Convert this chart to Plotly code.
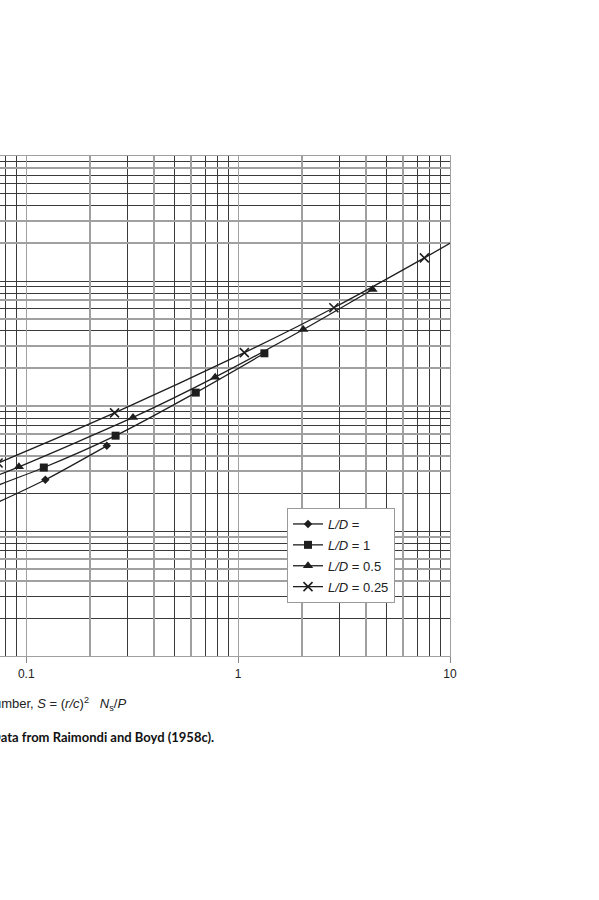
import plotly.graph_objects as go

# Sommerfeld number S and friction variable (r/c)f  (Raimondi & Boyd)
S_inf = [0.240, 0.123, 0.0626, 0.0350, 0.0160]
f_inf = [4.80, 2.57, 1.52, 1.20, 0.961]
S_1 = [1.33, 0.631, 0.264, 0.121, 0.0446, 0.0188]
f_1 = [26.4, 12.8, 5.79, 3.22, 1.70, 1.05]
S_05 = [4.31, 2.03, 0.779, 0.319, 0.0923, 0.0313]
f_05 = [85.6, 40.9, 17.0, 8.10, 3.26, 1.60]
S_025 = [16.2, 7.57, 2.83, 1.07, 0.261, 0.0736, 0.0101]
f_025 = [322, 153, 61.1, 26.7, 8.80, 3.50, 0.922]

series_names = ["<i>L/D</i> = ", "<i>L/D</i> = 1", "<i>L/D</i> = 0.5", "<i>L/D</i> = 0.25"]
x_tick_vals = [0.1, 1, 10]
x_tick_text = ["0.1", "1", "10"]
# grid lines that appear lighter in the printed chart
x_light_grid = [0.2, 0.4, 0.6, 2, 4, 6]
y_light_grid = [0.1, 0.4, 0.5, 0.6, 0.9, 3, 4, 6, 10, 20, 30, 50, 70, 200, 300, 800, 1000]

W, H = 599, 900
L, R, T, B = 0, 149, 156, 244
XR = [-1.124, 1.0]
YR = [-1.0, 3.0]

LINE = "#1e1e1e"
DARK = "#3a3a3a"
LIGHT = "#a0a0a0"

fig = go.Figure()
specs = [
    (S_inf, f_inf, "diamond", 6.5, None),
    (S_1, f_1, "square", 8, None),
    (S_05, f_05, "triangle-up", 9, None),
    (S_025, f_025, "x-thin", 9, 1.6),
]
for i, ((xs, ys, sym, sz, lw), name) in enumerate(zip(specs, series_names)):
    marker = dict(symbol=sym, size=sz, color=LINE)
    if lw:
        marker["line"] = dict(width=lw, color=LINE)
    fig.add_trace(go.Scatter(
        x=xs, y=ys, mode="lines+markers", name=name,
        line=dict(color=LINE, width=1.3, shape="spline", smoothing=0.6),
        marker=marker, legendgroup=f"g{i}",
    ))

# dummy trace for the overlay axes that carry the lighter grid lines
fig.add_trace(go.Scatter(x=[None], y=[None], xaxis="x2", yaxis="y2",
                         showlegend=False, hoverinfo="skip"))

fig.update_layout(
    width=W, height=H,
    margin=dict(l=L, r=R, t=T, b=B),
    paper_bgcolor="white", plot_bgcolor="white",
    font=dict(family="Liberation Sans, Arial, sans-serif", size=12, color="#222"),
    showlegend=True,
    legend=dict(
        x=287 / 450, y=(656 - 508) / 500, xanchor="left", yanchor="top",
        bgcolor="white", bordercolor="#9a9a9a", borderwidth=1,
        font=dict(family="Liberation Sans, Arial, sans-serif", size=13, color="#222"),
        tracegroupgap=1, itemwidth=30,
    ),
    xaxis=dict(
        type="log", range=XR, showgrid=True, gridcolor=LIGHT, gridwidth=1.4,
        tickmode="array", tickvals=x_tick_vals, ticktext=x_tick_text,
        ticks="outside", ticklen=6, tickcolor="#888", tickwidth=1,
        showline=True, linecolor=LIGHT, linewidth=1.4, mirror=True,
        minor=dict(dtick="D1", showgrid=True, gridcolor=DARK, gridwidth=1, ticks=""),
        zeroline=False, tickfont=dict(size=12, color="#222"),
    ),
    yaxis=dict(
        type="log", range=YR, showgrid=True, gridcolor=DARK, gridwidth=1,
        dtick=1, showticklabels=False, ticks="",
        showline=True, linecolor=LIGHT, linewidth=1.4, mirror=True,
        minor=dict(dtick="D1", showgrid=True, gridcolor=DARK, gridwidth=1, ticks=""),
        zeroline=False,
    ),
    xaxis2=dict(
        type="log", range=XR, overlaying="x", anchor="y2",
        tickmode="array", tickvals=x_light_grid, showticklabels=False, ticks="",
        showgrid=True, gridcolor=LIGHT, gridwidth=1.6, showline=False, zeroline=False,
    ),
    yaxis2=dict(
        type="log", range=YR, overlaying="y", anchor="x2",
        tickmode="array", tickvals=y_light_grid, showticklabels=False, ticks="",
        showgrid=True, gridcolor=LIGHT, gridwidth=1.6, showline=False, zeroline=False,
    ),
)

fig.add_annotation(
    xref="paper", yref="paper", x=128 / 450, y=(656 - 704) / 500,
    xanchor="right", yanchor="middle", showarrow=False,
    text="Sommerfeld number, <i>S</i> = (<i>r/c</i>)<sup>2</sup>   <i>N</i><sub>s</sub>/<i>P</i>",
    font=dict(family="Liberation Sans, Arial, sans-serif", size=13, color="#222"),
)
fig.add_annotation(
    xref="paper", yref="paper", x=216 / 450, y=(656 - 737) / 500,
    xanchor="right", yanchor="middle", showarrow=False,
    text="<b>Data from Raimondi and Boyd (1958c).</b>",
    font=dict(family="Lato, sans-serif", size=13, color="#111"),
)

fig.write_html(
    "out.html",
    config={"displayModeBar": False},
    post_script="document.body.style.margin='0';document.body.style.padding='0';",
)
